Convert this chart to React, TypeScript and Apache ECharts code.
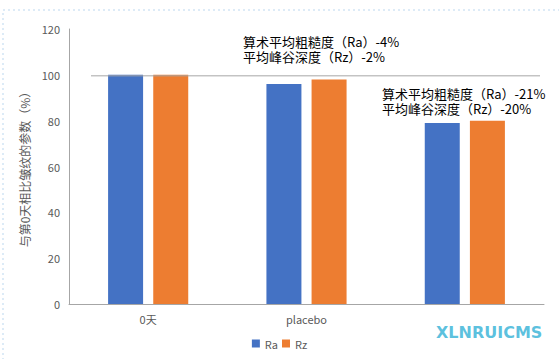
import React, { useEffect, useRef } from "react";
import * as echarts from "echarts";

const categories = ["0天", "placebo", ""];
const raValues = [100, 96, 79];
const rzValues = [100, 98, 80];
const yTicks = { min: 0, max: 120, interval: 20 };
const notes1 = ["算术平均粗糙度（Ra）-4%", "平均峰谷深度（Rz）-2%"];
const notes2 = ["算术平均粗糙度（Ra）-21%", "平均峰谷深度（Rz）-20%"];
const refValue = 100;

const FONT = '"Noto Sans CJK SC", "Noto Sans", sans-serif';

export default function App() {
  const ref = useRef<HTMLDivElement>(null);
  useEffect(() => {
    if (!ref.current) return;
    const chart = echarts.init(ref.current, undefined, { renderer: "svg" });
    chart.setOption({
      animation: false,
      backgroundColor: "#ffffff",
      textStyle: { fontFamily: FONT },
      grid: { left: 69, right: 15, top: 29, bottom: 55 },
      legend: {
        bottom: 5,
        left: "center",
        itemWidth: 8,
        itemHeight: 8,
        itemGap: 4,
        icon: "rect",
        textStyle: { color: "#595959", fontSize: 11, fontFamily: FONT },
        data: ["Ra", "Rz"],
      },
      xAxis: {
        type: "category",
        data: categories,
        axisLine: { lineStyle: { color: "#A6A6A6", width: 1 } },
        axisTick: { show: false },
        axisLabel: { color: "#595959", fontSize: 11, margin: 9, fontFamily: FONT },
      },
      yAxis: {
        type: "value",
        min: yTicks.min,
        max: yTicks.max,
        interval: yTicks.interval,
        name: "与第0天相比皱纹的参数（%）",
        nameLocation: "middle",
        nameGap: 31,
        nameTextStyle: { color: "#595959", fontSize: 12, fontFamily: FONT },
        axisLine: { show: true, lineStyle: { color: "#A6A6A6", width: 1 } },
        axisTick: { show: false },
        splitLine: { show: false },
        axisLabel: { color: "#595959", fontSize: 11, margin: 9, fontFamily: FONT },
      },
      series: [
        {
          name: "Ra",
          type: "bar",
          data: raValues,
          barWidth: 35,
          barGap: "29%",
          itemStyle: { color: "#4472C4" },
        },
        {
          name: "Rz",
          type: "bar",
          data: rzValues,
          barWidth: 35,
          itemStyle: { color: "#ED7D31" },
        },
      ],
    });
    const yRef = (chart.convertToPixel({ yAxisIndex: 0 }, refValue) as number) + 1;
    const noteText = (lines: string[], x: number, y: number) =>
      lines.map((t, i) => ({
        type: "text",
        x,
        y: y + i * 15.5,
        style: {
          text: t,
          fill: "#000",
          fontSize: 13,
          lineHeight: 15,
          fontFamily: FONT,
          textVerticalAlign: "middle",
        },
        z: 10,
      }));
    chart.setOption({
      graphic: [
        {
          type: "rect",
          shape: { x: 3, y: 10, width: 600, height: 400 },
          style: { fill: "none", stroke: "#DDEBF7", lineWidth: 2, lineDash: [2, 3] },
          silent: true,
        },
        {
          type: "line",
          shape: { x1: 91, y1: yRef, x2: 540, y2: yRef },
          style: { stroke: "#A6A6A6", lineWidth: 1 },
          z: 10,
        },
        ...noteText(notes1, 243, 41),
        ...noteText(notes2, 382, 93),
        {
          type: "text",
          x: 436,
          y: 324,
          style: {
            text: "XLNRUICMS",
            fill: "#3FB6D9",
            fontSize: 16,
            fontWeight: "bold",
            fontFamily: "DejaVu Sans",
            opacity: 0.85,
          },
          z: 10,
        },
      ],
    });
    return () => chart.dispose();
  }, []);
  return (
    <div
      ref={ref}
      style={{ position: "fixed", left: 0, top: 0, width: 559, height: 359 }}
    />
  );
}
